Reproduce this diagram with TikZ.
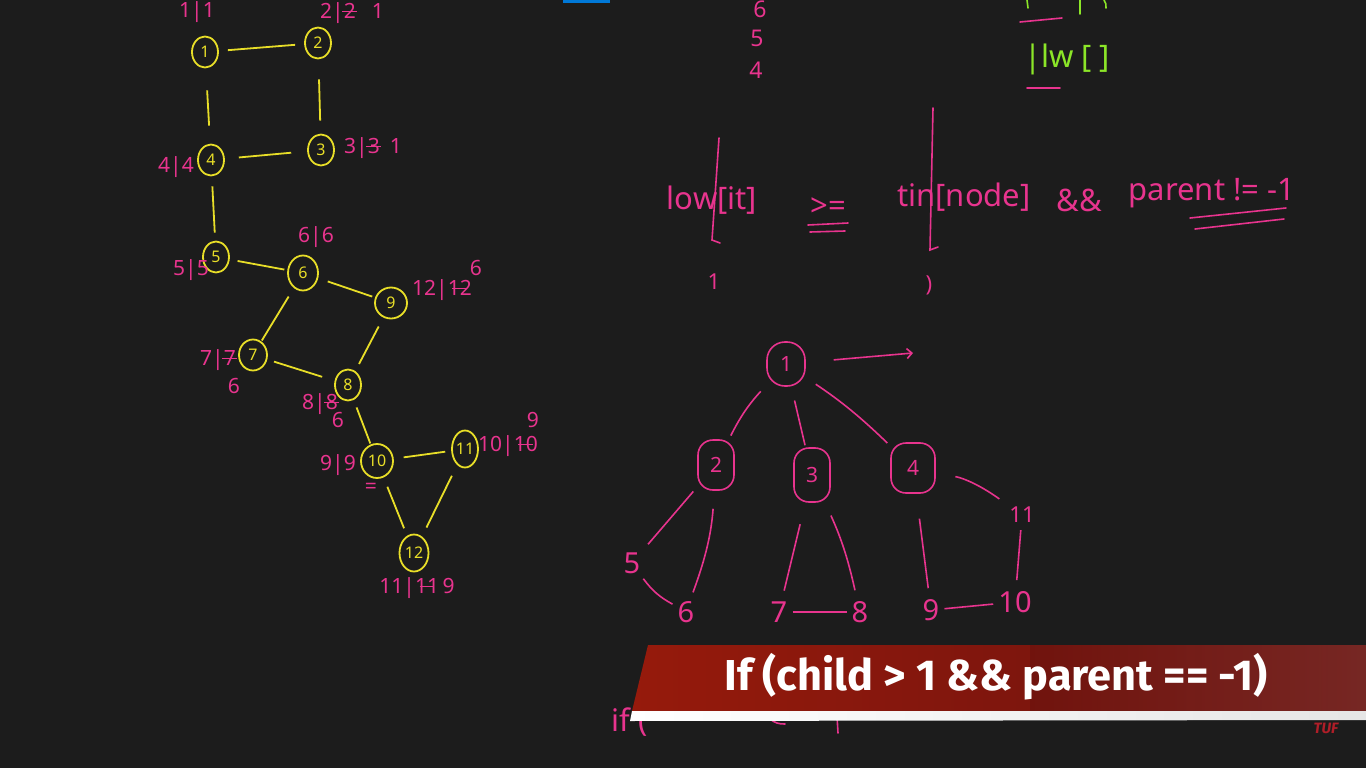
\documentclass[tikz,border=0pt]{standalone}
\usepackage{fontspec}
\setmainfont{Noto Sans}
\newfontfamily\banfont{Fira Sans}
\usetikzlibrary{shapes.geometric,arrows.meta,calc}
\definecolor{bg}{RGB}{28,28,28}
\definecolor{yel}{RGB}{232,222,40}
\definecolor{pnk}{RGB}{232,52,142}
\definecolor{grn}{RGB}{140,230,40}
\definecolor{bluebar}{RGB}{0,120,215}
\definecolor{banA}{RGB}{150,26,12}
\definecolor{banB}{RGB}{105,18,14}
\definecolor{tufred}{RGB}{175,30,40}
\newcommand{\xo}[1]{\ooalign{#1\cr\hidewidth\raisebox{0.3em}{\rule{0.7em}{1.2pt}}\hidewidth\cr}}
\begin{document}
\begin{tikzpicture}[x=1pt,y=-1pt,
  gnode/.style={ellipse,draw=yel,line width=1.8pt,text=yel,minimum width=26pt,minimum height=31pt,inner sep=0pt,font=\fontsize{16}{16}\selectfont},
  gedge/.style={draw=yel,line width=1.8pt,shorten >=9pt,shorten <=9pt},
  lbl/.style={text=pnk,inner sep=0pt,font=\fontsize{21}{21}\selectfont},
  tnode/.style={draw=pnk,line width=1.6pt,text=pnk,rounded corners=15pt,minimum width=36pt,minimum height=50pt,inner sep=0pt,font=\fontsize{21}{21}\selectfont},
  leaf/.style={text=pnk,inner sep=5pt,font=\fontsize{29}{29}\selectfont},
  tedge/.style={draw=pnk,line width=1.6pt},
  pline/.style={draw=pnk,line width=1.6pt,line cap=round},
  gline/.style={draw=grn,line width=1.6pt,line cap=round},
  big/.style={text=pnk,inner sep=0pt,font=\fontsize{31}{31}\selectfont},
]
\useasboundingbox (0,0) rectangle (1366,768);
\clip (0,0) rectangle (1366,768);
\fill[bg] (0,0) rectangle (1366,768);
\fill[bluebar] (563,0) rectangle (610,3);

% ---------- yellow graph ----------
\node[gnode] (g1) at (205,52) {1};
\node[gnode] (g2) at (318,43) {2};
\node[gnode] (g4) at (211,160) {4};
\node[gnode] (g3) at (321,150) {3};
\node[gnode] (g5) at (216,257) {5};
\node[gnode,minimum width=30pt,minimum height=35pt] (g6) at (303,273) {6};
\node[gnode,minimum width=32pt,minimum height=31pt] (g9) at (391,303) {9};
\node[gnode,minimum width=28pt] (g7) at (253,355) {7};
\node[gnode] (g8) at (348,385) {8};
\node[gnode,minimum width=32pt,minimum height=34pt] (g10) at (377,461) {10};
\node[gnode,minimum width=26pt,minimum height=37pt] (g11) at (465,449) {11};
\node[gnode,minimum width=29pt,minimum height=37pt] (g12) at (414,553) {12};

\draw[gedge] (g1) -- (g2);
\draw[gedge,shorten <=22pt,shorten >=18pt] (g1) -- (g4);
\draw[gedge,shorten <=20pt,shorten >=13pt] (g2) -- (g3);
\draw[gedge,shorten <=14pt,shorten >=16pt] (g4) -- (g3);
\draw[gedge,shorten <=10pt,shorten >=8pt] (g4) -- (g5);
\draw[gedge,shorten <=8pt,shorten >=3pt] (g5) -- (g6);
\draw[gedge,shorten <=10pt,shorten >=3pt] (g6) -- (g9);
\draw[gedge,shorten <=10pt,shorten >=1pt] (g6) -- (g7);
\draw[gedge,shorten <=10pt,shorten >=8pt] (g9) -- (g8);
\draw[gedge,shorten <=7pt,shorten >=13pt] (g7) -- (g8);
\draw[gedge,shorten <=8pt,shorten >=1pt] (g8) -- (g10);
\draw[gedge,shorten <=10pt,shorten >=6pt] (g10) -- (g11);
\draw[gedge,shorten <=10pt,shorten >=8pt] (g10) -- (g12);
\draw[gedge,shorten <=12pt,shorten >=10pt] (g11) -- (g12);

% ---------- pink labels on graph ----------
\node[lbl] (l1) at (197,12) {1|1};
\node[lbl] (l2) at (352,13) {2|\xo{2}\hspace{16pt}1};
\node[lbl] (l3) at (373,148) {3|\xo{3}\hspace{10pt}1};
\node[lbl] (l4) at (176,167) {4|4};
\node[lbl] (l5) at (191,270) {5|5};
\node[lbl] (l6) at (316,237) {6|6};
\node[lbl] (l9) at (442,290) {12|\xo{12}};
\node[lbl] (l9b) at (476,268) {6};
\node[lbl] (l7) at (218,360) {7|\xo{7}};
\node[lbl] (l7b) at (234,386) {6};
\node[lbl] (l8) at (320,404) {8|\xo{8}};
\node[lbl] (l8b) at (338,420) {6};
\node[lbl] (l10) at (338,465) {9|9};
\node[lbl] (l10b) at (371,488) {=};
\node[lbl] (l11) at (508,446) {10|\xo{10}};
\node[lbl] (l11b) at (533,420) {9};
\node[lbl] (l12) at (417,588) {11|\xo{11}\,9};

% ---------- top middle numbers ----------
\node[lbl,font=\fontsize{23}{23}\selectfont] (n6) at (760,9) {6};
\node[lbl,font=\fontsize{23}{23}\selectfont] (n5) at (757,38) {5};
\node[lbl,font=\fontsize{23}{23}\selectfont] (n4) at (756,70) {4};

% ---------- top right green ----------
\draw[gline] (1027,0) -- (1028,8);
\draw[gline] (1080,0) -- (1080,14);
\draw[gline] (1104,0) to[bend left=20] (1106,8);
\node[text=grn,inner sep=0pt,font=\fontsize{31}{31}\selectfont] (gl) at (1067,59) {|lw [ ]};
\draw[pline] (1020,22) -- (1062,18);
\draw[pline] (1027,88) -- (1060,88);

% ---------- formula ----------
\node[big] (f1) at (712,200) {low[it]};
\node[big] (f2) at (828,207) {>=};
\node[big] (f3) at (964,197) {tin[node]};
\node[big] (f4) at (1079,200) {\&\&};
\node[big] (f5) at (1212,193) {parent != -1};
\draw[pline] (719,138) -- (712,240) -- (720,243);
\draw[pline] (933,108) -- (930,250) -- (938,247);
\node[lbl,font=\fontsize{22}{22}\selectfont] (o1) at (714,282) {1};
\node[lbl,font=\fontsize{22}{22}\selectfont] (o2) at (929,285) {)};
\draw[pline] (808,225) -- (848,223);
\draw[pline] (810,232) -- (845,231);
\draw[pline] (1190,218) -- (1286,208);
\draw[pline] (1195,229) -- (1284,219);

% ---------- pink tree ----------
\node[tnode,rounded corners=18pt,minimum width=38pt,minimum height=44pt] (t1) at (786,364) {1};
\node[tnode] (t2) at (716,465) {2};
\node[tnode,minimum height=54pt] (t3) at (812,475) {3};
\node[tnode,minimum width=44pt] (t4) at (913,468) {4};
\node[leaf] (t5) at (632,563) {5};
\node[leaf] (t6) at (686,612) {6};
\node[leaf] (t7) at (779,612) {7};
\node[leaf] (t8) at (860,612) {8};
\node[leaf] (t9) at (931,610) {9};
\node[leaf] (t10) at (1015,602) {10};
\node[leaf,font=\fontsize{22}{22}\selectfont] (t11) at (1022,515) {11};
\coordinate (arrEnd) at (913,353);

\draw[tedge,-{Straight Barb[length=5pt]},shorten <=28pt] (t1) -- (arrEnd);
\draw[tedge,shorten <=8pt,shorten >=4pt] (t1) to[bend right=8] (t2);
\draw[tedge,shorten <=14pt,shorten >=2pt] (t1) -- (t3);
\draw[tedge,shorten <=12pt,shorten >=4pt] (t1) to[bend left=5] (t4);
\draw[tedge,shorten <=6pt,shorten >=4pt] (t2) -- (t5);
\draw[tedge,shorten <=18pt,shorten >=4pt] (t2) to[bend left=8] (t6);
\draw[tedge] (t5) to[bend right=12] (t6);
\draw[tedge,shorten <=22pt,shorten >=6pt] (t3) -- (t7);
\draw[tedge,shorten <=14pt,shorten >=6pt] (t3) to[bend left=6] (t8);
\draw[tedge] (t7) -- (t8);
\draw[tedge,shorten <=25pt,shorten >=6pt] (t4) -- (t9);
\draw[tedge,shorten <=20pt,shorten >=6pt] (t4) to[bend left=12] (t11);
\draw[tedge,shorten <=2pt,shorten >=6pt] (t11) -- (t10);
\draw[tedge] (t9) -- (t10);

% ---------- bottom handwriting partly covered ----------
\node[big] (iff) at (630,722) {if (};
\draw[pline] (770,719) to[bend right=20] (785,724);
\draw[pline] (837,716) -- (838,733);

% ---------- banner ----------
\shade[left color=banA,right color=banB] (648,645) -- (1366,645) -- (1366,711) -- (632,711) -- cycle;
\shade[left color=banB,right color=banB!85!white,opacity=0.6] (1030,645) rectangle (1366,711);
\shade[left color=white,right color=white!80!gray] (632,711) -- (1366,711) -- (1366,720) -- (630,721) -- cycle;
\node[text=white,inner sep=0pt] (ban) at (996,677) {\resizebox{543pt}{!}{\fontsize{40}{40}\banfont\bfseries If (child > 1 \&\& parent == -1)}};
\node[text=tufred,inner sep=0pt,font=\fontsize{15}{15}\banfont\bfseries\itshape] (tuf) at (1326,728) {TUF};
\end{tikzpicture}
\end{document}
